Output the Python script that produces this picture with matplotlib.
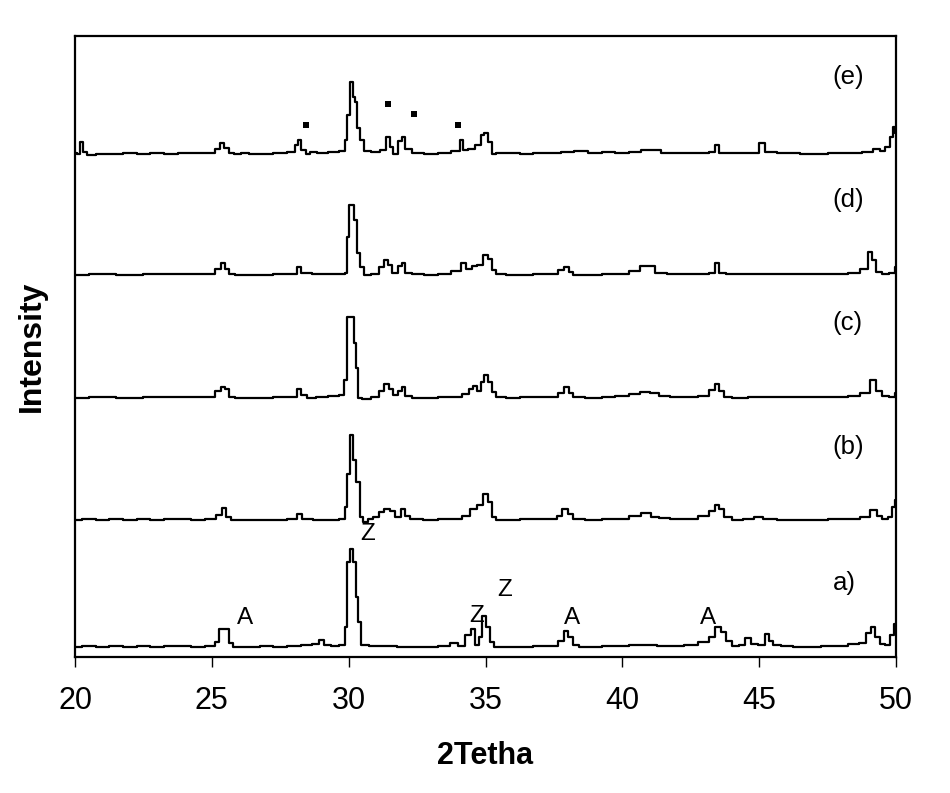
import matplotlib
matplotlib.use("Agg")
import matplotlib.pyplot as plt

plt.rcParams['font.family'] = ['Liberation Sans', 'DejaVu Sans']

# ---- data (2theta, intensity in arbitrary units, traces already offset) ----
a_x = [20.0, 20.5, 21, 21.5, 22, 22.5, 23, 23.5, 24, 24.5, 25.0, 25.2, 25.35, 25.55, 25.7, 25.85,
       26.5, 27, 27.5, 28, 28.5, 28.8, 29.0, 29.2, 29.5, 29.8, 29.9, 30.0, 30.1, 30.2, 30.3, 30.4,
       30.5, 31, 31.5, 32, 33, 33.5, 33.9, 34.1, 34.4, 34.55, 34.7, 34.8, 34.95, 35.1, 35.2, 35.4,
       36, 36.5, 37, 37.5, 37.8, 37.95, 38.1, 38.3, 38.5, 39, 39.5, 40, 40.5, 41, 41.5, 42, 42.5,
       43, 43.3, 43.5, 43.7, 43.9, 44.1, 44.4, 44.6, 44.8, 45.1, 45.3, 45.4, 45.6, 46, 46.5, 47,
       47.5, 48, 48.5, 48.8, 49.0, 49.15, 49.3, 49.5, 49.7, 49.85, 50.0]
a_y = [10, 11, 10, 11, 10, 11, 10, 11, 11, 10, 11, 15, 28, 28, 14, 10,
       10, 11, 10, 11, 12, 13, 17, 12, 11, 12, 30, 95, 108, 95, 60, 35,
       12, 11, 11, 10, 10, 11, 14, 11, 22, 28, 12, 20, 41, 30, 15, 10,
       10, 10, 11, 11, 16, 26, 20, 12, 10, 10, 11, 11, 12, 12, 11, 11, 12,
       15, 20, 30, 25, 16, 11, 12, 19, 13, 12, 23, 16, 12, 11, 10, 10,
       11, 11, 13, 14, 24, 30, 20, 13, 12, 22, 33]

b_x = [20, 20.5, 21, 21.5, 22, 22.5, 23, 23.5, 24, 24.5, 25, 25.3, 25.45, 25.6, 25.8, 26.5, 27,
       27.5, 28.0, 28.2, 28.4, 29, 29.5, 29.8, 29.9, 30.0, 30.1, 30.2, 30.35, 30.45, 30.6, 30.8,
       31.0, 31.2, 31.4, 31.6, 31.8, 32.0, 32.1, 32.4, 33, 33.5, 34, 34.3, 34.6, 34.8, 35.0, 35.15,
       35.3, 35.5, 36, 36.5, 37, 37.5, 37.7, 37.9, 38.1, 38.3, 39, 39.5, 40, 40.5, 40.9, 41.2, 41.5,
       42, 42.5, 43.0, 43.3, 43.45, 43.6, 43.8, 44.2, 44.6, 45.0, 45.3, 46, 47, 48, 48.5, 48.9,
       49.2, 49.4, 49.6, 49.8, 49.9, 50.0]
b_y = [137, 138, 137, 138, 137, 138, 137, 138, 138, 137, 138, 142, 149, 140, 137, 137, 137,
       137, 138, 143, 138, 137, 137, 138, 150, 183, 222, 197, 175, 140, 135, 138,
       140, 145, 148, 146, 140, 148, 141, 138, 137, 138, 138, 141, 148, 152, 163, 155,
       140, 137, 137, 138, 138, 138, 141, 148, 143, 138, 137, 138, 138, 141, 144, 140, 139,
       138, 138, 141, 146, 152, 148, 140, 137, 138, 140, 138, 137, 137, 138, 138, 140,
       147, 141, 138, 140, 150, 157]

c_x = [20, 21, 22, 23, 24, 25.0, 25.25, 25.4, 25.55, 25.7, 26, 27, 27.5, 28.0, 28.2, 28.35, 28.6,
       29, 29.5, 29.8, 29.86, 30.0, 30.16, 30.2, 30.3, 30.41, 30.6, 31.0, 31.2, 31.4, 31.55, 31.7,
       31.9, 32.0, 32.1, 32.5, 33, 33.5, 34, 34.3, 34.5, 34.6, 34.75, 34.9, 35.0, 35.15, 35.3, 35.5,
       36, 36.5, 37, 37.5, 37.8, 37.97, 38.1, 38.3, 39, 39.5, 40, 40.5, 40.8, 41.2, 41.5, 42, 42.5,
       43, 43.3, 43.45, 43.6, 43.8, 44.2, 45, 46, 47, 48, 48.5, 48.9, 49.2, 49.35, 49.6, 49.9, 50.0]
c_y = [259, 260, 259, 260, 260, 260, 266, 270, 268, 260, 259, 259, 260, 260, 268, 262, 259,
       260, 261, 262, 277, 340, 340, 314, 289, 259, 258, 260, 266, 273, 268, 262,
       266, 270, 261, 259, 259, 260, 260, 263, 268, 271, 266, 275, 282, 275, 265, 260,
       259, 260, 260, 260, 264, 270, 264, 260, 259, 260, 261, 263, 265, 264, 261, 260, 260,
       261, 267, 273, 266, 260, 259, 260, 260, 260, 260, 261, 264, 277, 266, 261, 260, 264]

d_x = [20, 21, 22, 23, 24, 25, 25.25, 25.4, 25.55, 25.7, 26, 27, 27.5, 28, 28.2, 28.35, 29, 29.5,
       29.8, 29.9, 29.95, 30.05, 30.15, 30.25, 30.35, 30.5, 30.6, 31, 31.2, 31.35, 31.5, 31.7, 31.9,
       32.0, 32.15, 32.5, 33, 33.5, 34, 34.2, 34.4, 34.6, 34.8, 35.0, 35.15, 35.3, 35.5, 36, 36.5,
       37, 37.5, 37.8, 37.97, 38.1, 38.3, 39, 39.5, 40, 40.5, 40.8, 41.1, 41.3, 42, 42.5, 43, 43.3,
       43.45, 43.6, 44, 45, 46, 47, 48, 48.5, 48.9, 49.05, 49.2, 49.35, 49.6, 49.9, 50.0]
d_y = [382, 383, 382, 383, 383, 383, 388, 394, 388, 383, 382, 382, 383, 383, 390, 384, 383, 383,
       383, 384, 420, 452, 452, 437, 404, 390, 382, 383, 390, 397, 392, 384, 391,
       394, 384, 383, 382, 383, 386, 394, 388, 391, 392, 402, 398, 387, 383, 382, 382,
       383, 383, 387, 390, 385, 382, 382, 383, 383, 386, 391, 391, 384, 383, 383, 383, 384,
       394, 384, 383, 383, 383, 383, 383, 384, 388, 405, 397, 385, 383, 384, 390]

e_x = [20.0, 20.15, 20.25, 20.35, 20.5, 21, 21.5, 22, 22.5, 23, 23.5, 24, 24.5, 25.0, 25.25, 25.35,
       25.55, 25.7, 25.9, 26.2, 26.5, 27, 27.5, 28, 28.1, 28.2, 28.35, 28.5, 28.7, 29, 29.5, 29.8,
       29.9, 30.0, 30.1, 30.2, 30.28, 30.36, 30.5, 30.6, 31, 31.3, 31.45, 31.55, 31.7, 31.9, 32.0,
       32.1, 32.5, 33, 33.5, 34.0, 34.1, 34.25, 34.5, 34.75, 34.9, 35.0, 35.15, 35.3, 35.5, 36,
       36.5, 37, 37.5, 38, 38.5, 39, 39.5, 40, 40.5, 40.9, 41.3, 41.5, 42, 42.5, 43, 43.3, 43.45,
       43.6, 44, 44.9, 45.1, 45.3, 46, 47, 48, 48.5, 49, 49.3, 49.5, 49.7, 49.85, 49.95, 50.0]
e_y = [504, 503, 515, 505, 502, 503, 503, 504, 503, 504, 503, 504, 504, 504, 508, 514,
       509, 504, 503, 504, 503, 503, 504, 505, 512, 517, 507, 503, 505, 504, 505, 506,
       517, 542, 575, 560, 555, 529, 517, 506, 505, 507, 520, 510, 503, 516, 520,
       508, 504, 503, 504, 506, 517, 507, 508, 512, 522, 524, 515, 503, 504, 504,
       503, 504, 504, 505, 506, 504, 505, 504, 505, 507, 507, 504, 504, 504, 504, 505, 512,
       504, 504, 504, 514, 505, 504, 503, 504, 504, 505, 508, 506, 510, 520, 530, 524]

trace_labels = ["a)", "(b)", "(c)", "(d)", "(e)"]
trace_label_x = [48.13, 48.24, 48.24, 48.24, 48.24]
trace_label_y = [74, 210, 334, 457, 580]

phase_labels = ["Z", "A", "Z", "Z", "A", "A"]
phase_x = [30.71, 26.21, 34.69, 35.71, 38.16, 43.13]
phase_y = [123, 39, 41, 67, 39, 39]

sq_x = [28.44, 31.44, 33.99]
sq_y = [532, 553, 532]
small_sq_x = [32.39]
small_sq_y = [543]

x_ticks = [20, 25, 30, 35, 40, 45, 50]

# ---- figure ----
fig = plt.figure(figsize=(9.5, 7.93), dpi=100)
ax = fig.add_axes([75 / 950, 136 / 793, 821 / 950, 621 / 793])

for xs, ys in [(a_x, a_y), (b_x, b_y), (c_x, c_y), (d_x, d_y), (e_x, e_y)]:
    ax.plot(xs, ys, color='black', lw=1.6, drawstyle='steps-mid')

ax.plot(sq_x, sq_y, 's', color='black', ms=5, mew=0)
ax.plot(small_sq_x, small_sq_y, 's', color='black', ms=3.8, mew=0)

for lab, x, y in zip(trace_labels, trace_label_x, trace_label_y):
    ax.text(x, y, lab, fontsize=18.5, ha='center', va='center')

for lab, x, y in zip(phase_labels, phase_x, phase_y):
    ax.text(x, y, lab, fontsize=17.5, ha='center', va='center')

ax.set_xlim(20, 50)
ax.set_ylim(0, 621)
ax.set_xticks(x_ticks)
ax.set_xticklabels([str(t) for t in x_ticks], fontsize=22)
ax.tick_params(axis='x', direction='out', length=7, width=1, pad=14, colors='black')
ax.set_yticks([])
for s in ax.spines.values():
    s.set_linewidth(1.6)
    s.set_color('black')

ax.set_xlabel("2Tetha", fontsize=22, fontweight='bold', labelpad=18)
ax.set_ylabel("Intensity", fontsize=23, fontweight='bold', labelpad=20)

fig.savefig("out.png", dpi=100)
